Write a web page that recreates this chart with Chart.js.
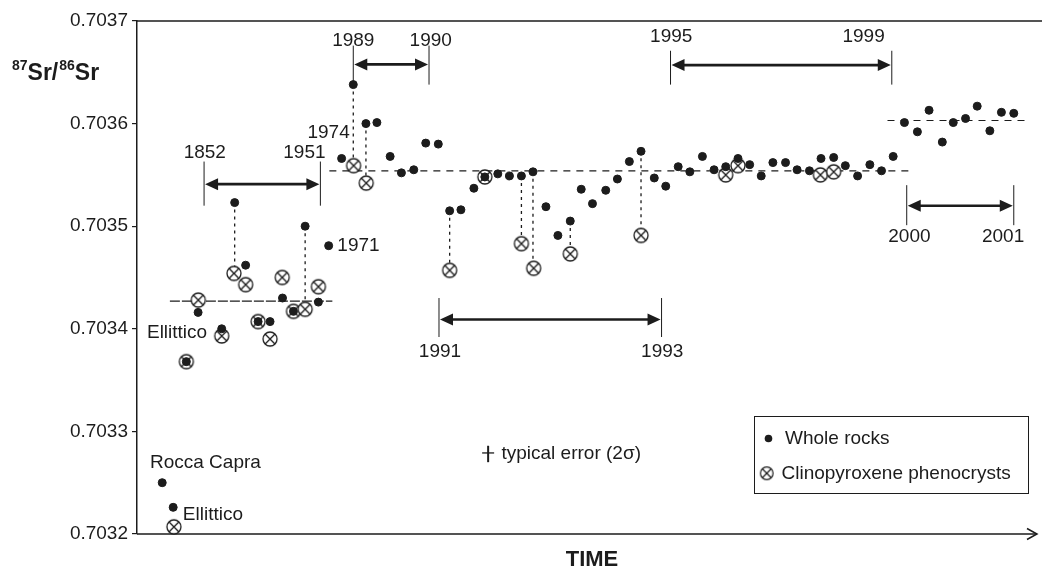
<!DOCTYPE html>
<html>
<head>
<meta charset="utf-8">
<script src="https://cdn.jsdelivr.net/npm/chart.js@4.4.1/dist/chart.umd.min.js"></script>
<style>
  html, body { margin: 0; padding: 0; background: #fff; }
  #chart { display: block; }
</style>
</head>
<body>
<canvas id="chart" width="1042" height="568"></canvas>
<script>
// time has no ticks in the figure, so it is kept in arbitrary units along the axis (0 = y axis)
const wrTime = [25.3, 36.3, 49.5, 61.3, 85, 98, 109, 121.5, 133.5, 146, 157, 168.7, 182, 192.3,
  205.3, 217, 229.7, 240.7, 254, 265.3, 277.7, 289.7, 302.3, 313.7, 325, 338, 349, 362, 373.7,
  385.7, 397.3, 410.3, 422.3, 434.7, 445.7, 457, 470.3, 482, 494, 505.7, 519, 530.5, 543, 554.7,
  567.3, 579, 590.7, 603, 614.7, 626.3, 638, 650.7, 662.3, 674.7, 686.3, 699, 710.7, 723, 735.3,
  747, 758.7, 770, 783, 794.7, 808, 819, 831.3, 843, 855.7, 867.3, 879.7];
const wrRatio = [0.70325, 0.703226, 0.703368, 0.703416, 0.7034, 0.703523, 0.703462, 0.703407,
  0.703407, 0.70343, 0.703417, 0.7035, 0.703426, 0.703481, 0.703566, 0.703638, 0.7036, 0.703601,
  0.703568, 0.703552, 0.703555, 0.703581, 0.70358, 0.703515, 0.703516, 0.703537, 0.703548,
  0.703551, 0.703549, 0.703549, 0.703553, 0.703519, 0.703491, 0.703505, 0.703536, 0.703522,
  0.703535, 0.703546, 0.703563, 0.703573, 0.703547, 0.703539, 0.703558, 0.703553, 0.703568,
  0.703555, 0.703558, 0.703566, 0.70356, 0.703549, 0.703562, 0.703562, 0.703555, 0.703554,
  0.703566, 0.703567, 0.703559, 0.703549, 0.70356, 0.703554, 0.703568, 0.703601, 0.703592,
  0.703613, 0.703582, 0.703601, 0.703605, 0.703617, 0.703593, 0.703611, 0.70361];

const cpxTime = [37, 49.5, 61.5, 85, 97.3, 109, 121.5, 133.5, 145.7, 157, 168.7, 182, 217.3, 230,
  313.7, 349, 385.7, 398, 434.7, 505.7, 590.7, 603, 685.7, 699];
const cpxRatio = [0.703207, 0.703368, 0.703428, 0.703393, 0.703454, 0.703443, 0.703407, 0.70339,
  0.70345, 0.703417, 0.703419, 0.703441, 0.703559, 0.703542, 0.703457, 0.703548, 0.703483,
  0.703459, 0.703473, 0.703491, 0.70355, 0.703559, 0.70355, 0.703553];

const yTicks = [0.7032, 0.7033, 0.7034, 0.7035, 0.7036, 0.7037];

// whole rock and its clinopyroxene joined by a dashed line
const linkTimes = [98, 168.7, 217, 229.7, 313.7, 385.7, 397.3, 434.7, 505.7];

// mean levels (dashed)
const meanLines = [
  { from: 33, to: 196, ratio: 0.703427, dash: [10, 2] },
  { from: 193, to: 778, ratio: 0.703554, dash: [7, 6] },
  { from: 753, to: 893, ratio: 0.703603, dash: [7, 6] }
];

// eruption periods shown with double arrows
const periods = [
  { y1: '1852', y2: '1951', t1: 67.3, t2: 184, arrow: 0.703541, top: 0.703563, bottom: 0.70352, lab1: 68, lab2: 168, labY: 0.703566 },
  { y1: '1989', y2: '1990', t1: 217, t2: 293, arrow: 0.7036577, top: 0.703676, bottom: 0.703638, lab1: 217, lab2: 294.7, labY: 0.703676 },
  { y1: '1995', y2: '1999', t1: 535.3, t2: 757.3, arrow: 0.703657, top: 0.703671, bottom: 0.703638, lab1: 536, lab2: 729, labY: 0.70368 },
  { y1: '1991', y2: '1993', t1: 303, t2: 526.3, arrow: 0.703409, top: 0.70343, bottom: 0.703392, lab1: 304, lab2: 527, labY: 0.703373 },
  { y1: '2000', y2: '2001', t1: 772.3, t2: 879.7, arrow: 0.70352, top: 0.70354, bottom: 0.703501, lab1: 775, lab2: 869, labY: 0.703485 }
];

const pointNotes = [
  { text: 'Rocca Capra', t: 13, ratio: 0.703269 },
  { text: 'Ellittico', t: 46, ratio: 0.703219 },
  { text: 'Ellittico', t: 10, ratio: 0.703396 },
  { text: '1971', t: 201, ratio: 0.703481 },
  { text: '1974', t: 171, ratio: 0.703591 }
];

const ink = '#1c1c1c';
const font = '"Liberation Sans", Arial, Helvetica, sans-serif';

function makeCpxMarker(r, lw) {
  const c = document.createElement('canvas');
  const s = Math.ceil(2 * r + lw + 2);
  c.width = c.height = s;
  const g = c.getContext('2d');
  const m = s / 2;
  g.fillStyle = '#fff';
  g.strokeStyle = ink;
  g.lineWidth = lw;
  g.beginPath();
  g.arc(m, m, r, 0, 2 * Math.PI);
  g.fill();
  g.stroke();
  const d = r * Math.SQRT1_2;
  g.beginPath();
  g.moveTo(m - d, m - d); g.lineTo(m + d, m + d);
  g.moveTo(m + d, m - d); g.lineTo(m - d, m + d);
  g.stroke();
  return c;
}
const cpxMarker = makeCpxMarker(7, 1.3);
const cpxLegendMarker = makeCpxMarker(6.3, 1.2);

const nearest = (times, t) => {
  let best = 0;
  times.forEach((v, i) => { if (Math.abs(v - t) < Math.abs(times[best] - t)) best = i; });
  return best;
};

function arrow(ctx, x1, x2, y) {
  const head = 14, half = 6;
  ctx.lineWidth = 2.6;
  ctx.beginPath();
  ctx.moveTo(x1 + head - 2, y);
  ctx.lineTo(x2 - head + 2, y);
  ctx.stroke();
  ctx.beginPath();
  ctx.moveTo(x1 + 1, y); ctx.lineTo(x1 + head, y - half); ctx.lineTo(x1 + head, y + half); ctx.closePath();
  ctx.moveTo(x2 - 1, y); ctx.lineTo(x2 - head, y - half); ctx.lineTo(x2 - head, y + half); ctx.closePath();
  ctx.fill();
}

const decorations = {
  id: 'decorations',
  beforeDatasetsDraw(chart) {
    const { ctx, chartArea: a } = chart;
    const xs = chart.scales.x, ys = chart.scales.y;
    ctx.save();
    ctx.strokeStyle = ink;
    ctx.fillStyle = ink;

    // frame top and time axis with arrow
    ctx.lineWidth = 1.5;
    ctx.beginPath();
    ctx.moveTo(a.left, a.top); ctx.lineTo(chart.width, a.top);
    ctx.moveTo(a.left, a.bottom); ctx.lineTo(a.right, a.bottom);
    ctx.stroke();
    ctx.beginPath();
    ctx.moveTo(a.right - 10, a.bottom - 5.5); ctx.lineTo(a.right, a.bottom); ctx.lineTo(a.right - 10, a.bottom + 5.5);
    ctx.stroke();

    // mean levels
    ctx.lineWidth = 1.2;
    meanLines.forEach(m => {
      ctx.setLineDash(m.dash);
      ctx.beginPath();
      ctx.moveTo(xs.getPixelForValue(m.from), ys.getPixelForValue(m.ratio));
      ctx.lineTo(xs.getPixelForValue(m.to), ys.getPixelForValue(m.ratio));
      ctx.stroke();
    });

    // whole rock -> clinopyroxene links
    ctx.setLineDash([3, 4]);
    ctx.lineWidth = 1.3;
    linkTimes.forEach(t => {
      const w = nearest(wrTime, t), c = nearest(cpxTime, t);
      const x = xs.getPixelForValue(wrTime[w]);
      ctx.beginPath();
      ctx.moveTo(x, ys.getPixelForValue(wrRatio[w]));
      ctx.lineTo(x, ys.getPixelForValue(cpxRatio[c]));
      ctx.stroke();
    });
    ctx.setLineDash([]);

    // period brackets
    periods.forEach(p => {
      const x1 = xs.getPixelForValue(p.t1), x2 = xs.getPixelForValue(p.t2);
      const yt = ys.getPixelForValue(p.top), yb = ys.getPixelForValue(p.bottom);
      ctx.lineWidth = 1;
      ctx.beginPath();
      ctx.moveTo(x1, yt); ctx.lineTo(x1, yb);
      ctx.moveTo(x2, yt); ctx.lineTo(x2, yb);
      ctx.stroke();
      arrow(ctx, x1, x2, ys.getPixelForValue(p.arrow));
    });
    ctx.restore();
  },
  afterDraw(chart) {
    const { ctx } = chart;
    const xs = chart.scales.x, ys = chart.scales.y;
    ctx.save();
    ctx.fillStyle = ink;
    ctx.strokeStyle = ink;
    ctx.font = '19px ' + font;

    ctx.textAlign = 'center';
    ctx.textBaseline = 'alphabetic';
    periods.forEach(p => {
      const y = ys.getPixelForValue(p.labY);
      ctx.fillText(p.y1, xs.getPixelForValue(p.lab1), y);
      ctx.fillText(p.y2, xs.getPixelForValue(p.lab2), y);
    });

    ctx.textAlign = 'left';
    ctx.textBaseline = 'middle';
    pointNotes.forEach(n => {
      ctx.fillText(n.text, xs.getPixelForValue(n.t), ys.getPixelForValue(n.ratio));
    });

    // typical error bar
    const ex = xs.getPixelForValue(352.3);
    ctx.lineWidth = 2;
    ctx.beginPath();
    ctx.moveTo(ex, ys.getPixelForValue(0.703286));
    ctx.lineTo(ex, ys.getPixelForValue(0.70327));
    ctx.stroke();
    ctx.lineWidth = 1.3;
    ctx.beginPath();
    ctx.moveTo(ex - 6, ys.getPixelForValue(0.703279));
    ctx.lineTo(ex + 6, ys.getPixelForValue(0.703279));
    ctx.stroke();
    ctx.fillText('typical error (2σ)', xs.getPixelForValue(365.7), ys.getPixelForValue(0.703278));

    // legend box
    ctx.lineWidth = 1;
    ctx.strokeRect(754.5, 416.5, 274, 77);
    ctx.beginPath();
    ctx.arc(768.5, 438.5, 3.8, 0, 2 * Math.PI);
    ctx.fill();
    ctx.fillText('Whole rocks', 785, 439);
    ctx.drawImage(cpxLegendMarker, 766.7 - cpxLegendMarker.width / 2, 473.3 - cpxLegendMarker.height / 2);
    ctx.fillText('Clinopyroxene phenocrysts', 781.5, 474);

    // axis titles
    ctx.textBaseline = 'alphabetic';
    let x = 12;
    const parts = [['87', true], ['Sr/', false], ['86', true], ['Sr', false]];
    parts.forEach(([s, sup]) => {
      ctx.font = sup ? 'bold 14px ' + font : 'bold 23px ' + font;
      ctx.fillText(s, x, sup ? 70 : 80);
      x += ctx.measureText(s).width + (sup ? 0 : 1);
    });
    ctx.font = 'bold 22px ' + font;
    ctx.textAlign = 'center';
    ctx.fillText('TIME', 592, 566);
    ctx.restore();
  }
};

new Chart(document.getElementById('chart'), {
  type: 'scatter',
  data: {
    datasets: [
      {
        label: 'Whole rocks',
        data: wrTime.map((t, i) => ({ x: t, y: wrRatio[i] })),
        pointRadius: 4,
        pointBorderWidth: 1,
        pointBackgroundColor: ink,
        pointBorderColor: ink,
        clip: false
      },
      {
        label: 'Clinopyroxene phenocrysts',
        data: cpxTime.map((t, i) => ({ x: t, y: cpxRatio[i] })),
        pointStyle: cpxMarker,
        clip: false
      }
    ]
  },
  options: {
    responsive: false,
    animation: false,
    events: [],
    layout: { padding: { top: 21, right: 2, bottom: 34, left: 0 } },
    plugins: { legend: { display: false }, tooltip: { enabled: false } },
    scales: {
      x: { type: 'linear', min: 0, max: 903, display: false },
      y: {
        min: 0.7032,
        max: 0.7037,
        afterBuildTicks: s => { s.ticks = yTicks.map(v => ({ value: v })); },
        afterFit: s => { s.width = 137; },
        grid: { drawOnChartArea: false, drawTicks: true, tickLength: 5, color: ink, lineWidth: 1.2 },
        border: { color: ink, width: 1.5 },
        ticks: {
          color: ink,
          padding: 4,
          font: { family: font, size: 19 },
          callback: v => v.toFixed(4)
        }
      }
    }
  },
  plugins: [decorations]
});
</script>
</body>
</html>
